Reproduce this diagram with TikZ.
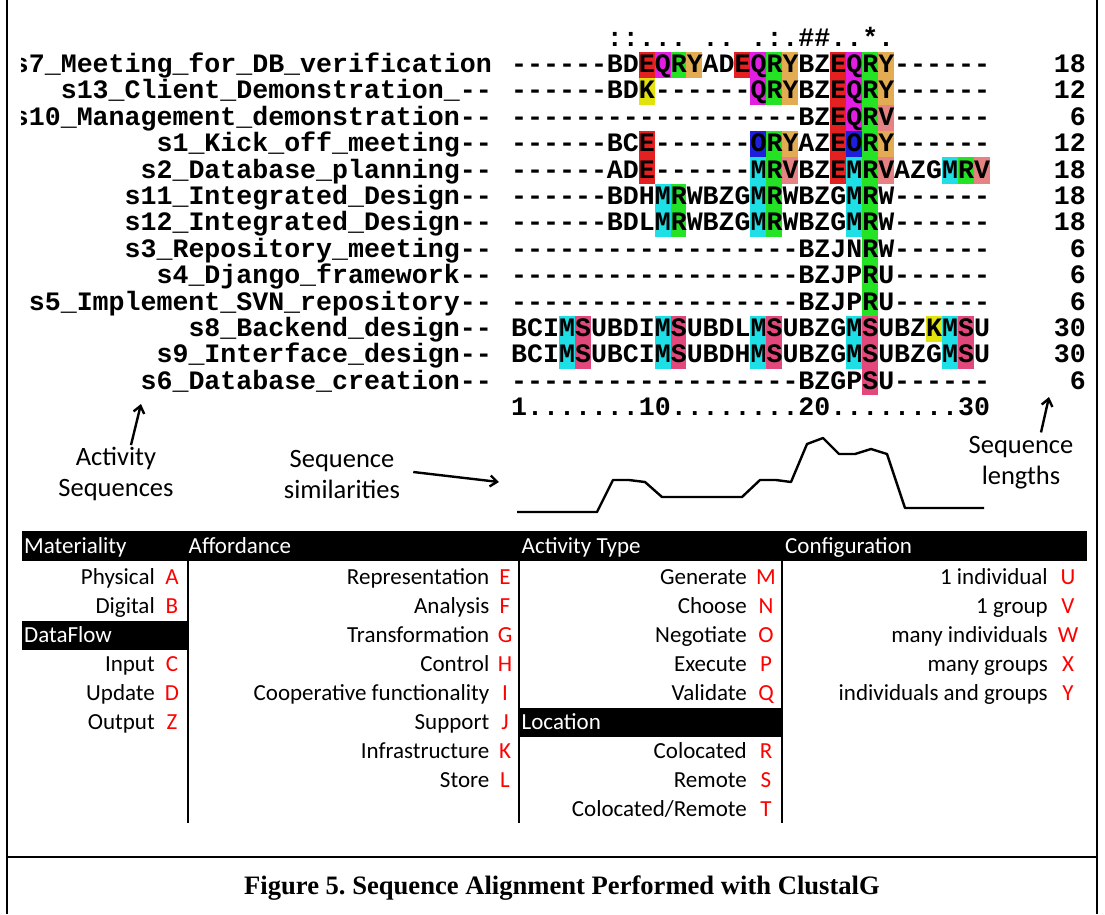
\documentclass[tikz,border=0pt]{standalone}
\usepackage{fontspec}
\setmainfont{Carlito}
\setmonofont{Liberation Mono}
\newfontfamily\captionserif{Liberation Serif}
\usetikzlibrary{arrows.meta}

% Residue colours of the alignment
\definecolor{resE}{RGB}{228,32,32}
\definecolor{resQ}{RGB}{226,30,226}
\definecolor{resR}{RGB}{36,226,36}
\definecolor{resY}{RGB}{228,172,82}
\definecolor{resK}{RGB}{226,226,14}
\definecolor{resO}{RGB}{30,30,222}
\definecolor{resV}{RGB}{230,130,130}
\definecolor{resM}{RGB}{30,222,230}
\definecolor{resS}{RGB}{226,72,122}

\tikzset{
  seqtext/.style={font=\ttfamily\bfseries\fontsize{26.6}{26.6}\selectfont, inner sep=0pt},
  notetext/.style={font=\fontsize{26.5}{31}\selectfont, align=center, inner sep=0pt},
  notearrow/.style={line width=2.4pt, -{Straight Barb[length=7pt,width=11pt]}},
  headtext/.style={font=\fontsize{23}{23}\selectfont, text=white, inner sep=2pt, anchor=base west},
  legendlab/.style={font=\fontsize{23}{23}\selectfont, inner sep=0pt, anchor=base east},
  legendkey/.style={font=\fontsize{23}{23}\selectfont, text=red, inner sep=0pt, anchor=base},
}

\begin{document}
\begin{tikzpicture}[x=1pt, y=-1pt]
    % Define the grid of the alignment
    \def\cw{15.95}
    \def\rh{26.4}
    \def\xs{511}
    \def\ys{51.7}
    \def\yb{72.5}

    \useasboundingbox (0,0) rectangle (1105,914);

    % Frame of the figure
    \draw[line width=2pt] (7,0) -- (7,914);
    \draw[line width=2pt] (1097,0) -- (1097,914);
    \draw[line width=2pt] (7,857) -- (1097,857);

    % Coloured residues (column/row)
    \foreach \cx/\ry in {8/1,14/1,20/1,20/2,20/3,8/4,20/4,8/5,20/5}
        \fill[resE] ({\xs+\cx*\cw},{\ys+(\ry-1)*\rh}) rectangle ++(\cw,\rh);
    \foreach \cx/\ry in {9/1,15/1,21/1,15/2,21/2,21/3}
        \fill[resQ] ({\xs+\cx*\cw},{\ys+(\ry-1)*\rh}) rectangle ++(\cw,\rh);
    \foreach \cx/\ry in {10/1,16/1,22/1,16/2,22/2,22/3,16/4,22/4,16/5,22/5,28/5,10/6,16/6,22/6,10/7,16/7,22/7,22/8,22/9,22/10}
        \fill[resR] ({\xs+\cx*\cw},{\ys+(\ry-1)*\rh}) rectangle ++(\cw,\rh);
    \foreach \cx/\ry in {11/1,17/1,23/1,17/2,23/2,17/4,23/4}
        \fill[resY] ({\xs+\cx*\cw},{\ys+(\ry-1)*\rh}) rectangle ++(\cw,\rh);
    \foreach \cx/\ry in {8/2,26/11}
        \fill[resK] ({\xs+\cx*\cw},{\ys+(\ry-1)*\rh}) rectangle ++(\cw,\rh);
    \foreach \cx/\ry in {15/4,21/4}
        \fill[resO] ({\xs+\cx*\cw},{\ys+(\ry-1)*\rh}) rectangle ++(\cw,\rh);
    \foreach \cx/\ry in {23/3,17/5,23/5,29/5}
        \fill[resV] ({\xs+\cx*\cw},{\ys+(\ry-1)*\rh}) rectangle ++(\cw,\rh);
    \foreach \cx/\ry in {15/5,21/5,27/5,9/6,15/6,21/6,9/7,15/7,21/7,3/11,9/11,15/11,21/11,27/11,3/12,9/12,15/12,21/12,27/12}
        \fill[resM] ({\xs+\cx*\cw},{\ys+(\ry-1)*\rh}) rectangle ++(\cw,\rh);
    \foreach \cx/\ry in {4/11,10/11,16/11,22/11,28/11,4/12,10/12,16/12,22/12,28/12,22/13}
        \fill[resS] ({\xs+\cx*\cw},{\ys+(\ry-1)*\rh}) rectangle ++(\cw,\rh);

    % Conservation marks
    \node[seqtext, anchor=base west] (cons) at ({\xs+6*\cw},{\yb-\rh}) {::...~..~.:.\#\#..*.};

    % Sequence rows: name, residues, length
    \foreach \ry/\seqname/\seqres/\seqlen in {
        1/s7\_Meeting\_for\_DB\_verification/------BDEQRYADEQRYBZEQRY------/18,
        2/s13\_Client\_Demonstration\_--/------BDK------QRYBZEQRY------/12,
        3/s10\_Management\_demonstration--/------------------BZEQRV------/6,
        4/s1\_Kick\_off\_meeting--/------BCE------ORYAZEORY------/12,
        5/s2\_Database\_planning--/------ADE------MRVBZEMRVAZGMRV/18,
        6/s11\_Integrated\_Design--/------BDHMRWBZGMRWBZGMRW------/18,
        7/s12\_Integrated\_Design--/------BDLMRWBZGMRWBZGMRW------/18,
        8/s3\_Repository\_meeting--/------------------BZJNRW------/6,
        9/s4\_Django\_framework--/------------------BZJPRU------/6,
        10/s5\_Implement\_SVN\_repository--/------------------BZJPRU------/6,
        11/s8\_Backend\_design--/BCIMSUBDIMSUBDLMSUBZGMSUBZKMSU/30,
        12/s9\_Interface\_design--/BCIMSUBCIMSUBDHMSUBZGMSUBZGMSU/30,
        13/s6\_Database\_creation--/------------------BZGPSU------/6}{
        \begin{scope}
            \clip (21,0) rectangle (500,914);
            \node[seqtext, anchor=base east] (name\ry) at (492,{\yb+(\ry-1)*\rh}) {\seqname};
        \end{scope}
        \node[seqtext, anchor=base west] (seq\ry) at (\xs,{\yb+(\ry-1)*\rh}) {\seqres};
        \node[seqtext, anchor=base east] (len\ry) at (1086,{\yb+(\ry-1)*\rh}) {\seqlen};
    }

    % Position ruler
    \node[seqtext, anchor=base west] (ruler) at (\xs,{\yb+13*\rh}) {1.......10........20........30};

    % Similarity profile
    \draw[line width=2.4pt, line join=round] (517,512) -- (597,512) -- (613,480) -- (629,480)
        -- (645,482) -- (662,497) -- (742,497) -- (760,480) -- (776,480) -- (791,482)
        -- (807,444) -- (823,438) -- (839,454) -- (855,454) -- (871,449) -- (887,454)
        -- (905,508) -- (984,508);

    % Annotations
    \node[notetext] (actseq) at (116,474) {Activity\\Sequences};
    \coordinate (actseqtip) at (141,404);
    \draw[notearrow] ([xshift=15pt, yshift=2pt]actseq.north) -- (actseqtip);

    \node[notetext] (seqsim) at (342,474) {Sequence\\similarities};
    \coordinate (seqsimtip) at (499,482);
    \draw[notearrow] ([xshift=13pt, yshift=2pt]seqsim.east) -- (seqsimtip);

    \node[notetext] (seqlen) at (1021,463) {Sequence\\lengths};
    \coordinate (seqlentip) at (1049,397);
    \draw[notearrow] ([xshift=20pt, yshift=4pt]seqlen.north) -- (seqlentip);

    % Legend: black header bars
    \fill (22,531) rectangle (1087,561);
    \fill (22,620.5) rectangle (187.5,649.5);
    \fill (519,707.5) rectangle (782.5,736.5);

    % Legend: column rules
    \foreach \x in {187.5,519,782}
        \draw[line width=2pt] (\x,561) -- (\x,823);

    % Legend: headers
    \node[headtext] (hmat) at (22,553.5) {Materiality};
    \node[headtext] (haff) at (186.5,553.5) {Affordance};
    \node[headtext] (hact) at (519.5,553.5) {Activity Type};
    \node[headtext] (hconf) at (783,553.5) {Configuration};
    \node[headtext] (hdata) at (22,642.5) {DataFlow};
    \node[headtext] (hloc) at (519.5,729.5) {Location};

    % Legend: entries (row/label/letter/label edge/letter centre)
    \foreach \k/\lab/\key/\xr/\xk in {
        0/Physical/A/155/172, 1/Digital/B/155/172,
        3/Input/C/155/172, 4/Update/D/155/172, 5/Output/Z/155/172,
        0/Representation/E/489.5/505, 1/Analysis/F/489.5/505,
        2/Transformation/G/489.5/505, 3/Control/H/489.5/505,
        4/Cooperative functionality/I/489.5/505, 5/Support/J/489.5/505,
        6/Infrastructure/K/489.5/505, 7/Store/L/489.5/505,
        0/Generate/M/747/766, 1/Choose/N/747/766, 2/Negotiate/O/747/766,
        3/Execute/P/747/766, 4/Validate/Q/747/766,
        6/Colocated/R/747/766, 7/Remote/S/747/766, 8/{Colocated/Remote}/T/747/766,
        0/1 individual/U/1048/1068, 1/1 group/V/1048/1068,
        2/many individuals/W/1048/1068, 3/many groups/X/1048/1068,
        4/individuals and groups/Y/1048/1068}{
        \node[legendlab] (lab\key) at (\xr,{584.5+29*\k}) {\lab};
        \node[legendkey] (key\key) at (\xk,{584.5+29*\k}) {\key};
    }

    % Caption
    \node[font=\captionserif\bfseries\fontsize{26.6}{26.6}\selectfont, anchor=base, inner sep=0pt] (caption)
        at (562,894) {\frenchspacing Figure 5. Sequence Alignment Performed with ClustalG};
\end{tikzpicture}
\end{document}
